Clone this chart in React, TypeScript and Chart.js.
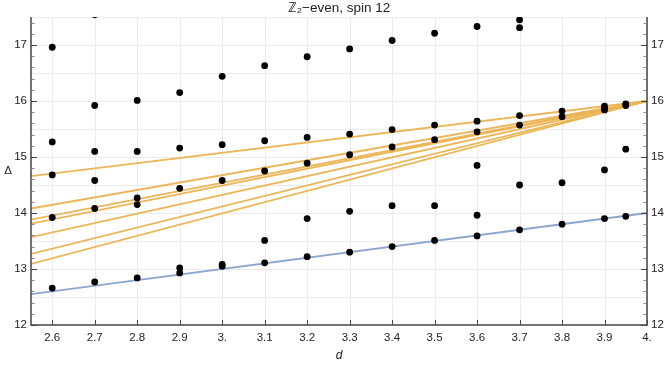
import React, { useEffect, useRef } from 'react';
import { Chart, registerables } from 'chart.js';

Chart.register(...registerables);

const X_MIN = 2.55;
const X_MAX = 4.0;
const Y_MIN = 12;
const Y_MAX = 17.5;

const xTickValues = [2.6, 2.7, 2.8, 2.9, 3.0, 3.1, 3.2, 3.3, 3.4, 3.5, 3.6, 3.7, 3.8, 3.9, 4.0];
const xTickLabels = ['2.6', '2.7', '2.8', '2.9', '3.', '3.1', '3.2', '3.3', '3.4', '3.5', '3.6', '3.7', '3.8', '3.9', '4.'];
const yTickValues = [12, 13, 14, 15, 16, 17];
const yTickLabels = ['12', '13', '14', '15', '16', '17'];
const yGridValues = [12.5, 13, 13.5, 14, 14.5, 15, 15.5, 16, 16.5, 17, 17.5];

// spectrum points, by column of d
const dColumns = [2.6, 2.7, 2.8, 2.9, 3.0, 3.1, 3.2, 3.3, 3.4, 3.5, 3.6, 3.7, 3.8, 3.9, 3.95];
const deltaColumns = [
  [16.96, 15.27, 14.68, 13.92, 12.66],
  [17.54, 15.92, 15.10, 14.58, 14.08, 12.77],
  [16.01, 15.10, 14.27, 14.15, 12.84],
  [16.15, 15.16, 14.44, 13.02, 12.93],
  [16.44, 15.22, 14.58, 13.08, 13.05],
  [16.63, 15.29, 14.75, 13.51, 13.11],
  [16.79, 15.35, 14.89, 13.90, 13.22],
  [16.93, 15.41, 15.04, 14.03, 13.30],
  [17.08, 15.49, 15.18, 14.13, 13.40],
  [17.21, 15.57, 15.31, 14.13, 13.51],
  [17.33, 15.64, 15.45, 14.85, 13.96, 13.59],
  [17.45, 17.31, 15.74, 15.57, 14.50, 13.70],
  [15.82, 15.72, 14.54, 13.80],
  [15.91, 15.87, 15.84, 14.77, 13.90],
  [15.95, 15.92, 15.14, 13.94],
];

// orange reference lines: value at d = 2.55 and at d = 4
const lineD = [2.55, 4.0];
const orangeStart = [14.66, 14.08, 13.88, 13.81, 13.57, 13.27, 13.09];
const orangeEnd = [16, 16, 16, 16, 16, 16, 16];
// blue reference line
const blueStart = 12.55;
const blueEnd = 14.0;

const ORANGE = 'rgb(236,182,88)';
const BLUE = 'rgb(140,165,208)';
const AXIS = '#444444';
const GRID = '#ebebeb';
const TEXT = '#222222';
const FONT = '"Liberation Sans", Arial, sans-serif';

const framePlugin = {
  id: 'frame',
  beforeDatasetsDraw(chart: any) {
    const { ctx, chartArea: a, scales } = chart;
    const xs = scales.x;
    const ys = scales.y;
    ctx.save();
    ctx.strokeStyle = GRID;
    ctx.lineWidth = 1;
    for (const v of xTickValues) {
      const px = Math.round(xs.getPixelForValue(v)) + 0.5;
      ctx.beginPath();
      ctx.moveTo(px, a.top);
      ctx.lineTo(px, a.bottom);
      ctx.stroke();
    }
    for (const v of yGridValues) {
      const py = Math.round(ys.getPixelForValue(v)) + 0.5;
      ctx.beginPath();
      ctx.moveTo(a.left, py);
      ctx.lineTo(a.right, py);
      ctx.stroke();
    }
    ctx.restore();
  },
  afterDatasetsDraw(chart: any) {
    const { ctx, chartArea: a, scales } = chart;
    const xs = scales.x;
    const ys = scales.y;
    ctx.save();
    ctx.strokeStyle = AXIS;
    ctx.lineWidth = 1.5;
    ctx.beginPath();
    ctx.moveTo(a.left, a.top);
    ctx.lineTo(a.left, a.bottom);
    ctx.lineTo(a.right, a.bottom);
    ctx.lineTo(a.right, a.top);
    ctx.stroke();
    ctx.lineWidth = 1;
    for (let i = 0; i <= 27; i++) {
      const v = Y_MIN + i * 0.2;
      const major = Math.abs(v - Math.round(v)) < 1e-6;
      const len = major ? 6 : 3.5;
      const py = Math.round(ys.getPixelForValue(v)) + 0.5;
      ctx.strokeStyle = major ? AXIS : '#888888';
      ctx.beginPath();
      ctx.moveTo(a.left, py);
      ctx.lineTo(a.left + len, py);
      ctx.moveTo(a.right, py);
      ctx.lineTo(a.right - len, py);
      ctx.stroke();
    }
    ctx.strokeStyle = AXIS;
    for (const v of xTickValues) {
      const px = Math.round(xs.getPixelForValue(v)) + 0.5;
      ctx.beginPath();
      ctx.moveTo(px, a.bottom);
      ctx.lineTo(px, a.bottom - 5);
      ctx.stroke();
    }
    ctx.fillStyle = TEXT;
    ctx.font = `11.5px ${FONT}`;
    ctx.textBaseline = 'middle';
    ctx.textAlign = 'right';
    yTickValues.forEach((v, i) => {
      ctx.fillText(yTickLabels[i], a.left - 4, ys.getPixelForValue(v));
    });
    ctx.textAlign = 'left';
    yTickValues.forEach((v, i) => {
      ctx.fillText(yTickLabels[i], a.right + 4, ys.getPixelForValue(v));
    });
    ctx.textAlign = 'center';
    xTickValues.forEach((v, i) => {
      ctx.fillText(xTickLabels[i], xs.getPixelForValue(v), a.bottom + 13);
    });
    ctx.fillText('Δ', 8, (a.top + a.bottom) / 2);
    ctx.font = `italic 12px ${FONT}`;
    ctx.fillText('d', (a.left + a.right) / 2, a.bottom + 31);
    ctx.font = `13.5px ${FONT}`;
    ctx.fillText('ℤ₂−even, spin 12', (a.left + a.right) / 2, 8);
    ctx.restore();
  },
};

export default function App() {
  const ref = useRef<HTMLCanvasElement | null>(null);
  useEffect(() => {
    document.body.style.margin = '0';
    const canvas = ref.current;
    if (!canvas) return;
    const points: { x: number; y: number }[] = [];
    dColumns.forEach((d, i) => {
      deltaColumns[i].forEach((v) => points.push({ x: d, y: v }));
    });
    const datasets: any[] = [
      {
        data: points,
        pointRadius: 3.4,
        pointBackgroundColor: '#000',
        pointBorderColor: '#000',
        pointBorderWidth: 0,
        showLine: false,
      },
      {
        data: [
          { x: lineD[0], y: blueStart },
          { x: lineD[1], y: blueEnd },
        ],
        showLine: true,
        borderColor: BLUE,
        borderWidth: 1.8,
        pointRadius: 0,
      },
    ];
    orangeStart.forEach((s, i) => {
      datasets.push({
        data: [
          { x: lineD[0], y: s },
          { x: lineD[1], y: orangeEnd[i] },
        ],
        showLine: true,
        borderColor: ORANGE,
        borderWidth: 1.8,
        pointRadius: 0,
      });
    });
    const chart = new Chart(canvas, {
      type: 'scatter',
      data: { datasets },
      options: {
        animation: false,
        responsive: false,
        devicePixelRatio: 1,
        layout: { padding: { left: 31, right: 17, top: 17, bottom: 43 } },
        plugins: { legend: { display: false }, tooltip: { enabled: false }, title: { display: false } },
        scales: {
          x: {
            type: 'linear',
            min: X_MIN,
            max: X_MAX,
            grid: { display: false, drawTicks: false },
            border: { display: false },
            ticks: { display: false },
          },
          y: {
            type: 'linear',
            min: Y_MIN,
            max: Y_MAX,
            grid: { display: false, drawTicks: false },
            border: { display: false },
            ticks: { display: false },
          },
        },
      },
      plugins: [framePlugin],
    });
    return () => chart.destroy();
  }, []);
  return (
    <div style={{ width: 664, height: 368 }}>
      <canvas ref={ref} width={664} height={368} style={{ display: 'block' }} />
    </div>
  );
}
